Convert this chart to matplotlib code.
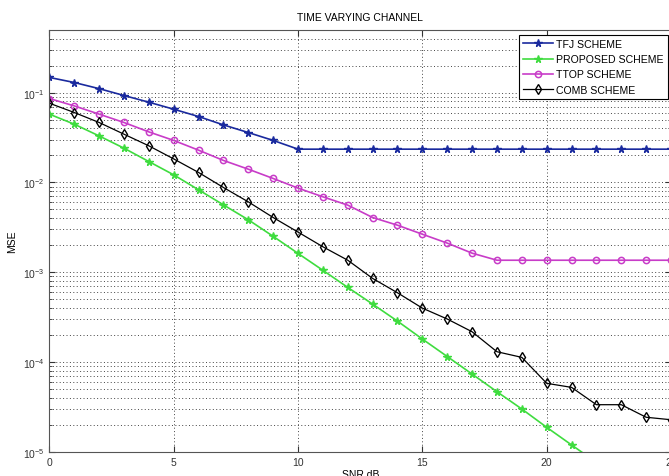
import numpy as np
import matplotlib
matplotlib.use('Agg')
import matplotlib.pyplot as plt
from matplotlib.ticker import LogLocator, NullFormatter

plt.rcParams['font.family'] = ['Liberation Sans', 'DejaVu Sans']

# SNR axis (dB)
snr = np.arange(0, 26)

# MSE values
tfj = [0.148, 0.130, 0.111, 0.0931, 0.0784, 0.0655, 0.0543, 0.0438, 0.0360, 0.0294,
       0.0235, 0.0235, 0.0235, 0.0235, 0.0235, 0.0235, 0.0235, 0.0235, 0.0235, 0.0235,
       0.0235, 0.0235, 0.0235, 0.0235, 0.0235, 0.0235]
proposed = [0.0577, 0.0446, 0.0330, 0.0241, 0.0171, 0.01216, 0.00828, 0.00563, 0.00384, 0.00251,
            0.00162, 0.00105, 6.77e-4, 4.41e-4, 2.85e-4, 1.80e-4, 1.15e-4, 7.33e-5, 4.66e-5, 2.99e-5,
            1.87e-5, 1.19e-5, 7.6e-6, 4.8e-6, 3.0e-6, 1.9e-6]
ttop = [0.0862, 0.0713, 0.0577, 0.0466, 0.0366, 0.0294, 0.0229, 0.0176, 0.01406, 0.01108,
        0.00865, 0.00692, 0.00559, 0.00407, 0.00334, 0.00265, 0.00211, 0.00163, 0.00136, 0.00136,
        0.00136, 0.00136, 0.00136, 0.00136, 0.00136, 0.00136]
comb = [0.0764, 0.0602, 0.0466, 0.0345, 0.0256, 0.0183, 0.01292, 0.00879, 0.00608, 0.00407,
        0.00280, 0.00192, 0.00136, 8.53e-4, 5.90e-4, 3.98e-4, 3.01e-4, 2.17e-4, 1.30e-4, 1.125e-4,
        5.78e-5, 5.21e-5, 3.34e-5, 3.34e-5, 2.42e-5, 2.27e-5]

W, H = 669, 477
fig = plt.figure(figsize=(W / 100, H / 100), dpi=100)
# axes run slightly past the right edge, like the cropped original
left, right, top, bottom = 49.4, 671.0, 31.0, 452.7
ax = fig.add_axes([left / W, 1 - bottom / H, (right - left) / W, (bottom - top) / H])

ax.semilogy(snr, tfj, '-*', color='#1a2a9e', lw=1.2, ms=5.5, label='TFJ SCHEME')
ax.semilogy(snr, proposed, '-*', color='#3fdc3f', lw=1.2, ms=5.5, label='PROPOSED SCHEME')
ax.semilogy(snr, ttop, '-o', color='#c83cc8', lw=1.2, ms=4.5, mfc='none', mew=1.1,
            label='TTOP SCHEME')
ax.semilogy(snr, comb, '-d', color='black', lw=0.9, ms=4.8, mfc='none', mew=1.0,
            label='COMB SCHEME')

ax.set_xlim(0, 25)
ax.set_ylim(1e-5, 0.5)
ax.set_xticks([0, 5, 10, 15, 20, 25])
ax.yaxis.set_major_locator(LogLocator(base=10, numticks=10))
ax.yaxis.set_minor_locator(LogLocator(base=10, subs=np.arange(2, 10), numticks=20))
ax.yaxis.set_minor_formatter(NullFormatter())

ax.grid(True, which='major', axis='both', ls=(0, (1, 2.5)), color='#444444', lw=0.7)
ax.grid(True, which='minor', axis='y', ls=(0, (1, 2.5)), color='#444444', lw=0.7)
ax.tick_params(which='both', direction='in', labelsize=7.5, colors='#333333',
               top=True, right=True)
ax.tick_params(which='major', length=4)
ax.tick_params(which='minor', length=2)
for s in ax.spines.values():
    s.set_color('#555555')

ax.set_title('TIME VARYING CHANNEL', fontsize=7.5, pad=7)
ax.set_xlabel('SNR dB', fontsize=7.5, labelpad=2)
ax.set_ylabel('MSE', fontsize=7.5, labelpad=4)

leg = ax.legend(loc='upper right', bbox_to_anchor=(667.7 / W, 1 - 35.7 / H),
                bbox_transform=fig.transFigure, borderaxespad=0, fontsize=7.6,
                fancybox=False, framealpha=1, edgecolor='black', handlelength=2.9,
                handletextpad=0.25, labelspacing=0.5, borderpad=0.4)
leg.get_frame().set_linewidth(0.8)

fig.savefig('out.png', dpi=100)
